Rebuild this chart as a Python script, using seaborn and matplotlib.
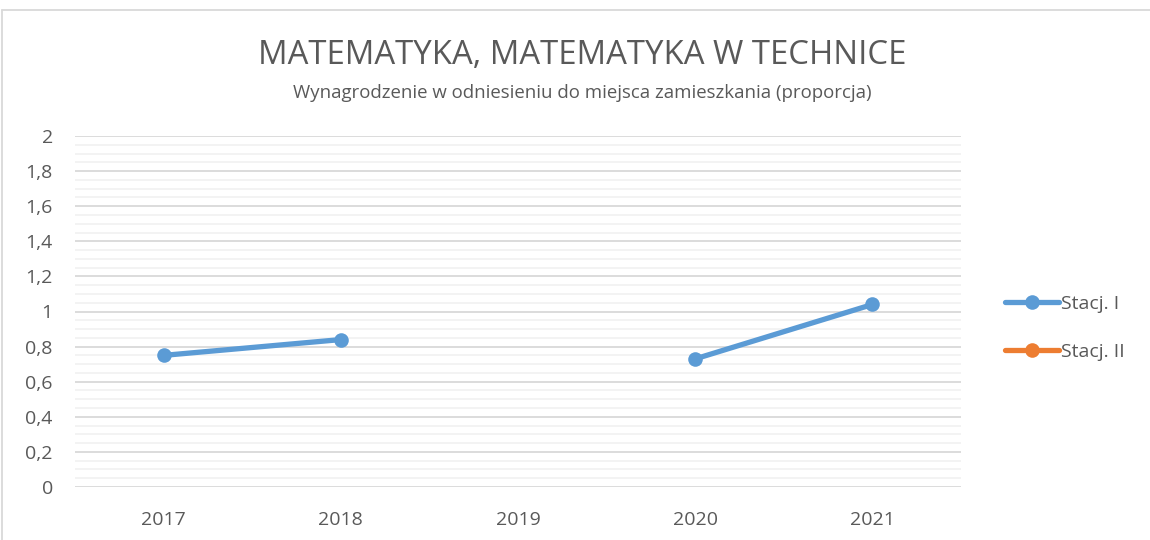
import numpy as np
import pandas as pd
import matplotlib
matplotlib.use("Agg")
import matplotlib.pyplot as plt
from matplotlib.lines import Line2D
from matplotlib.ticker import MultipleLocator, FuncFormatter
import seaborn as sns

title = "MATEMATYKA, MATEMATYKA W TECHNICE"
subtitle = "Wynagrodzenie w odniesieniu do miejsca zamieszkania (proporcja)"
years = [2017, 2018, 2019, 2020, 2021]
stacj_1 = [0.75, 0.84, np.nan, 0.73, 1.04]
stacj_2 = [np.nan, np.nan, np.nan, np.nan, np.nan]
series_names = ["Stacj. I", "Stacj. II"]
colors = ["#5B9BD5", "#ED7D31"]

sns.set_style("white")
plt.rcParams['font.family'] = ['Open Sans', 'DejaVu Sans']
text_col = "#595959"

fig = plt.figure(figsize=(11.5, 5.4), dpi=100)
ax = fig.add_axes([75/1150, 1-487/540, (961-75)/1150, (487-136)/540])

# split each series into runs between gaps so the line breaks at missing years
for name, vals, col in zip(series_names, [stacj_1, stacj_2], colors):
    df = pd.DataFrame({"year": years, "val": vals})
    df["seg"] = df["val"].isna().cumsum()
    df = df.dropna()
    if df.empty:
        continue
    sns.lineplot(data=df, x="year", y="val", units="seg", estimator=None,
                 color=col, linewidth=3.8, marker="o", markersize=10.5,
                 markeredgewidth=0, ax=ax, legend=False, zorder=3)

ax.set_xlim(years[0]-0.5, years[-1]+0.5)
ax.set_ylim(0, 2)
ax.set_xticks(years)
ax.set_xticklabels([str(y) for y in years])
ax.yaxis.set_major_locator(MultipleLocator(0.2))
ax.yaxis.set_minor_locator(MultipleLocator(0.05))
ax.yaxis.set_major_formatter(FuncFormatter(lambda v, p: f"{v:g}".replace(".", ",")))
ax.grid(axis="y", which="minor", color="#F2F2F2", linewidth=1.3, zorder=0)
ax.grid(axis="y", which="major", color="#D9D9D9", linewidth=1.3, zorder=1)
ax.grid(axis="x", visible=False)
ax.set_axisbelow(True)
for s in ax.spines.values():
    s.set_visible(False)
ax.tick_params(axis="both", which="both", length=0, labelsize=14, colors=text_col)
ax.tick_params(axis="y", pad=16)
ax.tick_params(axis="x", pad=17)
ax.set_xlabel("")
ax.set_ylabel("")

fig.text(582/1150, 1-56/540, title, ha="center", va="center", fontsize=23.7, color=text_col)
fig.text(582/1150, 1-93/540, subtitle, ha="center", va="center", fontsize=13.4, color=text_col)

handles = [Line2D([0], [0], color=c, linewidth=3.8, marker="o", markersize=10.5,
                  markeredgewidth=0) for c in colors]
fig.legend(handles, series_names, loc="center left", bbox_to_anchor=(995/1150, 1-328/540),
           frameon=False, fontsize=14, labelcolor=text_col, handlelength=2.8,
           handletextpad=0.1, labelspacing=1.55, borderpad=0)

# chart-area frame (top and left edges visible)
fig.add_artist(Line2D([2/1150, 2/1150], [0, 1-10/540], color="#D9D9D9", linewidth=1.3))
fig.add_artist(Line2D([2/1150, 1], [1-10/540, 1-10/540], color="#D9D9D9", linewidth=1.3))

fig.savefig("out.png", dpi=100, facecolor="white")
